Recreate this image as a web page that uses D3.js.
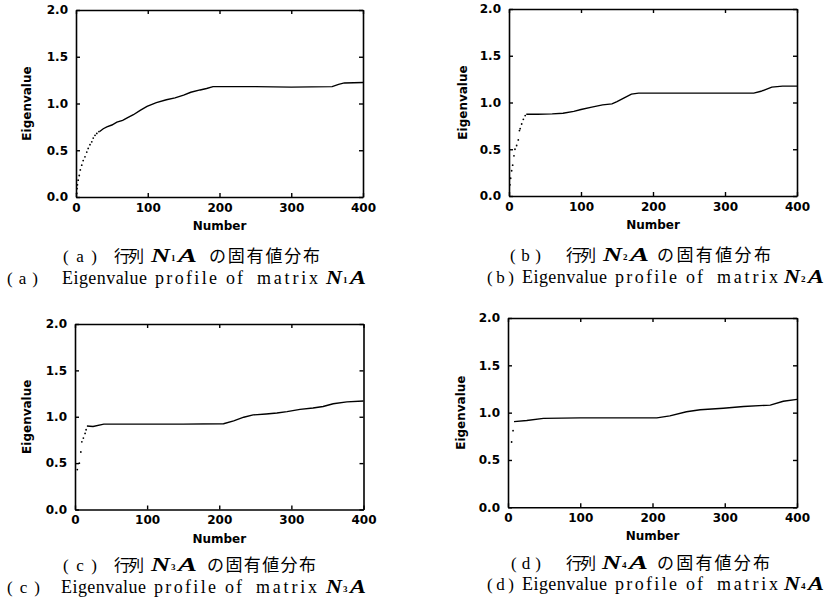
<!DOCTYPE html>
<html><head><meta charset="utf-8">
<script src="https://cdn.jsdelivr.net/npm/d3@7"></script>
<style>body{margin:0;background:#fff}</style>
</head><body><svg id="c" width="829" height="605"></svg>
<script>
// ---------- data ----------
const xTicks = [0, 100, 200, 300, 400];
const yTicks = [0, 0.5, 1.0, 1.5, 2.0];
const xLabel = "Number";
const yLabel = "Eigenvalue";
const panelLetters = ["a", "b", "c", "d"];
const matrixIndex = ["1", "2", "3", "4"];
const captionJaA = "行列";
const captionJaB = "の固有値分布";
const captionEnWords = ["Eigenvalue", "profile", "of", "matrix"];

// steep initial eigenvalues (drawn as separate dots)
const dotsA = [[1,0.04],[1.5,0.09],[2,0.13],[3,0.18],[4.5,0.23],[6,0.29],[8,0.34],[10,0.39],[12.5,0.43],[15,0.48],[17,0.52],[19.5,0.56],[22,0.59],[24,0.63],[26.5,0.66],[29,0.68],[32,0.70]];
const dotsB = [[1.4,0.12],[2.3,0.19],[3.7,0.27],[5.1,0.33],[6.9,0.43],[8.3,0.50],[10.6,0.54],[12.9,0.60],[14.5,0.70],[15.5,0.72],[17.6,0.77],[19.9,0.82],[22.5,0.86]];
const dotsC = [[3.2,0.43],[6,0.50],[8.1,0.62],[9.5,0.73],[11.6,0.77],[14,0.82],[15.4,0.86]];
const dotsD = [[5,0.69],[7,0.81]];

// continuous part of each profile
const lineA = [[33,0.70],[38,0.73],[43,0.75],[50,0.77],[57,0.80],[65,0.82],[72,0.85],[80,0.88],[90,0.93],[99,0.97],[112,1.01],[126,1.04],[138,1.06],[150,1.09],[160,1.12],[173,1.145],[182,1.16],[191,1.18],[250,1.18],[300,1.175],[357,1.18],[366,1.205],[374,1.22],[400,1.225]];
const lineB = [[24,0.875],[40,0.875],[60,0.878],[75,0.885],[90,0.905],[100,0.925],[115,0.95],[130,0.975],[143,0.985],[150,1.01],[160,1.05],[170,1.09],[180,1.10],[250,1.10],[300,1.10],[340,1.10],[350,1.12],[365,1.165],[380,1.175],[400,1.175]];
const lineC = [[16.5,0.90],[25,0.895],[40,0.92],[100,0.92],[150,0.92],[206,0.925],[220,0.955],[234,0.995],[247,1.02],[265,1.03],[280,1.04],[294,1.055],[312,1.08],[330,1.095],[344,1.11],[358,1.14],[377,1.16],[400,1.17]];
const lineD = [[8.3,0.905],[26,0.917],[49,0.94],[100,0.945],[150,0.945],[206,0.945],[224,0.966],[247,1.01],[266,1.03],[298,1.047],[326,1.065],[363,1.08],[381,1.12],[400,1.14]];

const seriesDots = [dotsA, dotsB, dotsC, dotsD];
const seriesLines = [lineA, lineB, lineC, lineD];

// ---------- layout ----------
const wordOffsets = [0, 93, 164, 195];
const wordWidths = [85, 62, 17, 61];
const layout = [
  {l:76, r:363, t:10, b:197, ylabX:27, cap1Y:262, cap2Y:284,
   c1:{p:63, pw:34, gy:114, n:151, no:209, now:111}, c2:{p:7, pw:31, en:62, n:326}},
  {l:509, r:797, t:9, b:196, ylabX:463, cap1Y:261, cap2Y:283,
   c1:{p:510, pw:31, gy:566, n:603, no:657, now:114}, c2:{p:487, pw:27, en:522, n:784}},
  {l:75, r:363.5, t:324, b:509.5, ylabX:27, cap1Y:571, cap2Y:593,
   c1:{p:63, pw:34, gy:114, n:151, no:207, now:109}, c2:{p:7, pw:33, en:61, n:326}},
  {l:508, r:797, t:318, b:507.3, ylabX:461, cap1Y:569, cap2Y:590,
   c1:{p:511, pw:30, gy:566, n:602, no:657, now:113}, c2:{p:487, pw:27, en:522, n:784}}
];

const svg = d3.select("#c");
const sansBold = "'DejaVu Sans', 'Liberation Sans', sans-serif";
const serif = "'Liberation Serif', 'DejaVu Serif', serif";
const cjk = "'Noto Sans CJK JP', sans-serif";

layout.forEach((L, i) => {
  const x = d3.scaleLinear().domain([0, 400]).range([L.l, L.r]);
  const y = d3.scaleLinear().domain([0, 2]).range([L.b, L.t]);
  const g = svg.append("g");

  const styleAxis = sel => {
    sel.selectAll("path.domain").attr("stroke", "#000").attr("stroke-width", 1.6);
    sel.selectAll(".tick line").attr("stroke", "#000").attr("stroke-width", 1.4);
    sel.selectAll("text").attr("font-family", sansBold).attr("font-weight", "bold")
      .attr("font-size", 12).attr("fill", "#000");
  };

  g.append("g").attr("transform", `translate(0,${L.b})`)
    .call(d3.axisBottom(x).tickValues(xTicks).tickSizeInner(-4).tickSizeOuter(0).tickPadding(6)
      .tickFormat(d3.format("d"))).call(styleAxis);
  g.append("g").attr("transform", `translate(0,${L.t})`)
    .call(d3.axisTop(x).tickValues(xTicks).tickSizeInner(-4).tickSizeOuter(0).tickFormat(() => ""))
    .call(styleAxis);
  g.append("g").attr("transform", `translate(${L.l},0)`)
    .call(d3.axisLeft(y).tickValues(yTicks).tickSizeInner(-4).tickSizeOuter(0).tickPadding(8)
      .tickFormat(d3.format(".1f"))).call(styleAxis);
  g.append("g").attr("transform", `translate(${L.r},0)`)
    .call(d3.axisRight(y).tickValues(yTicks).tickSizeInner(-4).tickSizeOuter(0).tickFormat(() => ""))
    .call(styleAxis);

  // axis titles
  g.append("text").attr("x", (L.l + L.r) / 2).attr("y", L.b + 33)
    .attr("text-anchor", "middle").attr("font-family", sansBold).attr("font-weight", "bold")
    .attr("font-size", 12).text(xLabel);
  g.append("text").attr("transform", `translate(${L.ylabX + 4},${(L.t + L.b) / 2}) rotate(-90)`)
    .attr("text-anchor", "middle").attr("font-family", sansBold).attr("font-weight", "bold")
    .attr("font-size", 12).text(yLabel);

  // data
  g.append("g").selectAll("circle").data(seriesDots[i]).join("circle")
    .attr("cx", d => x(d[0])).attr("cy", d => y(d[1])).attr("r", 0.9).attr("fill", "#000");
  g.append("path").datum(seriesLines[i])
    .attr("d", d3.line().x(d => x(d[0])).y(d => y(d[1])))
    .attr("fill", "none").attr("stroke", "#000").attr("stroke-width", 1.4);

  // captions
  const letter = panelLetters[i], sub = matrixIndex[i];
  const matName = (x0, yb, wN, wA, fs) => {
    g.append("text").attr("x", x0).attr("y", yb).attr("font-family", serif)
      .attr("font-weight", "bold").attr("font-style", "italic").attr("font-size", fs)
      .attr("textLength", wN).attr("lengthAdjust", "spacingAndGlyphs").text("N");
    g.append("text").attr("x", x0 + wN + 1).attr("y", yb - 1).attr("font-family", serif)
      .attr("font-weight", "bold").attr("font-size", 9).text(sub);
    g.append("text").attr("x", x0 + wN + 8).attr("y", yb).attr("font-family", serif)
      .attr("font-weight", "bold").attr("font-style", "italic").attr("font-size", fs)
      .attr("textLength", wA).attr("lengthAdjust", "spacingAndGlyphs").text("A");
  };
  // line 1 (Japanese)
  const c1 = L.c1, y1 = L.cap1Y;
  g.append("text").attr("x", c1.p).attr("y", y1).attr("font-family", serif).attr("font-size", 17)
    .attr("textLength", c1.pw).attr("lengthAdjust", "spacing").text(`( ${letter} )`);
  g.append("text").attr("x", c1.gy).attr("y", y1).attr("font-family", cjk).attr("font-size", 16)
    .attr("textLength", 30).attr("lengthAdjust", "spacing").text(captionJaA);
  matName(c1.n, y1, 19, 19, 18);
  g.append("text").attr("x", c1.no).attr("y", y1).attr("font-family", cjk).attr("font-size", 17)
    .attr("textLength", c1.now).attr("lengthAdjust", "spacing").text(captionJaB);
  // line 2 (English)
  const c2 = L.c2, y2 = L.cap2Y;
  g.append("text").attr("x", c2.p).attr("y", y2).attr("font-family", serif).attr("font-size", 17)
    .attr("textLength", c2.pw).attr("lengthAdjust", "spacing").text(`( ${letter} )`);
  captionEnWords.forEach((w, k) => {
    g.append("text").attr("x", c2.en + wordOffsets[k]).attr("y", y2)
      .attr("font-family", serif).attr("font-size", 18)
      .attr("textLength", wordWidths[k]).attr("lengthAdjust", "spacing").text(w);
  });
  matName(c2.n, y2, 16, 16, 18);
});
</script></body></html>
